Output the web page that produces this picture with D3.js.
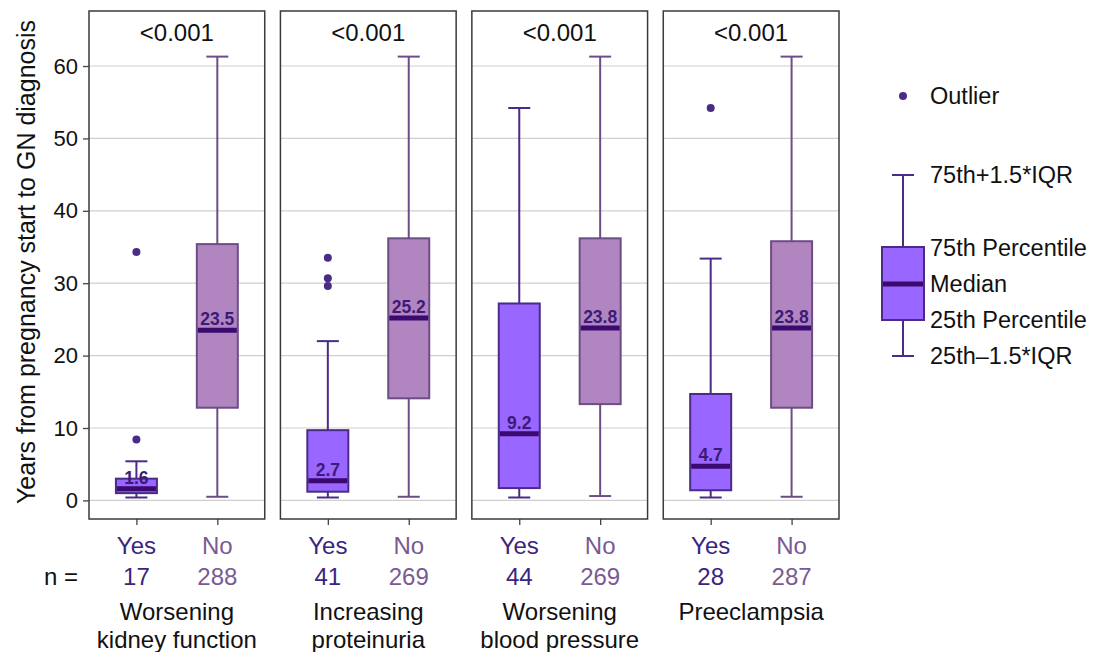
<!DOCTYPE html>
<html>
<head>
<meta charset="utf-8">
<script src="https://cdn.jsdelivr.net/npm/d3@7"></script>
<style>
  body { margin: 0; background: #fff; }
  text { font-family: "Liberation Sans", Arial, sans-serif; }
</style>
</head>
<body>
<div class="chart"></div>
<script>
var svgWidth = 1095;
var svgHeight = 652;

// data
var panels = ["Worsening kidney function", "Increasing proteinuria", "Worsening blood pressure", "Preeclampsia"];
var panelLines = [["Worsening", "kidney function"], ["Increasing", "proteinuria"], ["Worsening", "blood pressure"], ["Preeclampsia"]];
var pValues = ["<0.001", "<0.001", "<0.001", "<0.001"];
var groups = ["Yes", "No"];
var nYes = [17, 41, 44, 28];
var nNo = [288, 269, 269, 287];
// [low whisker, Q1, median, Q3, high whisker]
var statsYes = [
  [0.4, 1.0, 1.6, 3.0, 5.4],
  [0.4, 1.2, 2.7, 9.7, 22.0],
  [0.4, 1.7, 9.2, 27.2, 54.2],
  [0.4, 1.4, 4.7, 14.7, 33.4]
];
var statsNo = [
  [0.5, 12.8, 23.5, 35.4, 61.3],
  [0.5, 14.1, 25.2, 36.2, 61.3],
  [0.6, 13.3, 23.8, 36.2, 61.3],
  [0.5, 12.8, 23.8, 35.8, 61.3]
];
var outliersYes = [[8.4, 34.3], [29.6, 30.7, 33.5], [], [54.2]];
var outliersNo = [[], [], [], []];
var yTicks = [0, 10, 20, 30, 40, 50, 60];

var fillCol = { Yes: "#9966ff", No: "#b085c0" };
var strokeCol = { Yes: "#4a2c86", No: "#6d4d85" };
var textCol = { Yes: "#3a2580", No: "#7a5a94" };
var medianCol = "#3b0a70";

var svg = d3.select(".chart")
  .append("svg")
  .attr("width", svgWidth)
  .attr("height", svgHeight);

var plotTop = 11, plotBottom = 519;

var y = d3.scaleLinear()
  .domain([-2.57, 67.6])
  .range([plotBottom, plotTop]);

var xPanel = d3.scaleBand()
  .domain(panels)
  .range([89, 839])
  .paddingInner(0.082);

var xGroup = d3.scalePoint()
  .domain(groups)
  .range([0, xPanel.bandwidth()])
  .padding(0.586);

var boxW = 41;

panels.forEach(function(p, i) {
  var g = svg.append("g")
    .attr("transform", `translate(${xPanel(p)}, 0)`);
  var bw = xPanel.bandwidth();

  // grid
  g.selectAll(".grid")
    .data(yTicks)
    .enter()
    .append("line")
    .attr("x1", 0).attr("x2", bw)
    .attr("y1", d => y(d)).attr("y2", d => y(d))
    .attr("stroke", "#cfcfcf")
    .attr("stroke-width", 1.2);

  // bottom ticks
  var xAxis = d3.axisBottom(xGroup).tickSize(6).tickFormat("");
  var ax = g.append("g")
    .attr("transform", `translate(0, ${plotBottom})`)
    .call(xAxis);
  ax.select(".domain").remove();
  ax.selectAll("line").attr("stroke", "#444").attr("stroke-width", 1.3);

  var rows = [
    { grp: "Yes", s: statsYes[i], out: outliersYes[i] },
    { grp: "No", s: statsNo[i], out: outliersNo[i] }
  ];

  rows.forEach(function(r) {
    var cx = xGroup(r.grp);
    var sc = strokeCol[r.grp];
    // whiskers
    g.append("line")
      .attr("x1", cx).attr("x2", cx)
      .attr("y1", y(r.s[0])).attr("y2", y(r.s[4]))
      .attr("stroke", sc).attr("stroke-width", 2);
    [r.s[0], r.s[4]].forEach(function(v) {
      g.append("line")
        .attr("x1", cx - 11).attr("x2", cx + 11)
        .attr("y1", y(v)).attr("y2", y(v))
        .attr("stroke", sc).attr("stroke-width", 2);
    });
    // box
    g.append("rect")
      .attr("x", cx - boxW / 2)
      .attr("width", boxW)
      .attr("y", y(r.s[3]))
      .attr("height", y(r.s[1]) - y(r.s[3]))
      .attr("fill", fillCol[r.grp])
      .attr("stroke", sc)
      .attr("stroke-width", 2);
    // median
    g.append("line")
      .attr("x1", cx - boxW / 2 + 1).attr("x2", cx + boxW / 2 - 1)
      .attr("y1", y(r.s[2])).attr("y2", y(r.s[2]))
      .attr("stroke", medianCol).attr("stroke-width", 5);
    g.append("text")
      .attr("x", cx)
      .attr("y", y(r.s[2]) - 5)
      .attr("text-anchor", "middle")
      .attr("font-size", 17.5)
      .attr("font-weight", "bold")
      .attr("fill", "#3e1a78")
      .text(r.s[2].toFixed(1));
    // outliers
    g.selectAll(null)
      .data(r.out)
      .enter()
      .append("circle")
      .attr("cx", cx)
      .attr("cy", d => y(d))
      .attr("r", 4)
      .attr("fill", "#4a2c86");

    // group label and n
    g.append("text")
      .attr("x", cx).attr("y", 554)
      .attr("text-anchor", "middle")
      .attr("font-size", 24)
      .attr("fill", textCol[r.grp])
      .text(r.grp);
    g.append("text")
      .attr("x", cx).attr("y", 585)
      .attr("text-anchor", "middle")
      .attr("font-size", 24)
      .attr("fill", textCol[r.grp])
      .text(r.grp == "Yes" ? nYes[i] : nNo[i]);
  });

  // panel border
  g.append("rect")
    .attr("x", 0).attr("y", plotTop)
    .attr("width", bw).attr("height", plotBottom - plotTop)
    .attr("fill", "none")
    .attr("stroke", "#3a3a3a")
    .attr("stroke-width", 1.5);

  // p value
  g.append("text")
    .attr("x", bw / 2).attr("y", 41)
    .attr("text-anchor", "middle")
    .attr("font-size", 24)
    .attr("fill", "#111")
    .text(pValues[i]);

  // category label
  var t = g.append("text")
    .attr("x", bw / 2).attr("y", 620)
    .attr("text-anchor", "middle")
    .attr("font-size", 24)
    .attr("fill", "#111");
  panelLines[i].forEach(function(l, k) {
    t.append("tspan").attr("x", bw / 2).attr("dy", k == 0 ? 0 : 28).text(l);
  });
});

// y axis
var leftAxis = d3.axisLeft(y).tickValues(yTicks).tickSize(6).tickPadding(5);
var yAx = svg.append("g")
  .attr("transform", `translate(${xPanel(panels[0])}, 0)`)
  .call(leftAxis);
yAx.select(".domain").remove();
yAx.selectAll("line").attr("stroke", "#444").attr("stroke-width", 1.3);
yAx.selectAll("text")
  .attr("font-size", 22)
  .attr("fill", "#111")
  .style("font-family", "Liberation Sans, Arial, sans-serif");

svg.append("text")
  .attr("transform", "rotate(-90)")
  .attr("x", -262)
  .attr("y", 35)
  .attr("text-anchor", "middle")
  .attr("font-size", 25)
  .attr("fill", "#111")
  .text("Years from pregnancy start to GN diagnosis");

svg.append("text")
  .attr("x", 78).attr("y", 585)
  .attr("text-anchor", "end")
  .attr("font-size", 24)
  .attr("fill", "#111")
  .text("n =");

// legend
var legend = svg.append("g");
var lx = 903;
legend.append("circle")
  .attr("cx", lx).attr("cy", 96).attr("r", 4)
  .attr("fill", "#4a2c86");
legend.append("line")
  .attr("x1", lx).attr("x2", lx).attr("y1", 175).attr("y2", 356)
  .attr("stroke", "#4a2c86").attr("stroke-width", 2);
[175, 356].forEach(function(v) {
  legend.append("line")
    .attr("x1", lx - 11).attr("x2", lx + 11).attr("y1", v).attr("y2", v)
    .attr("stroke", "#4a2c86").attr("stroke-width", 2);
});
legend.append("rect")
  .attr("x", lx - 21).attr("y", 247).attr("width", 42).attr("height", 73)
  .attr("fill", "#9966ff").attr("stroke", "#4a2c86").attr("stroke-width", 2);
legend.append("line")
  .attr("x1", lx - 20).attr("x2", lx + 20).attr("y1", 284).attr("y2", 284)
  .attr("stroke", medianCol).attr("stroke-width", 5);

var legendLabels = ["Outlier", "75th+1.5*IQR", "75th Percentile", "Median", "25th Percentile", "25th\u20131.5*IQR"];
var legendY = [96, 175, 248, 284, 320, 356];
legend.selectAll(".ll")
  .data(legendLabels)
  .enter()
  .append("text")
  .attr("x", 930)
  .attr("y", (d, k) => legendY[k])
  .attr("dy", "0.35em")
  .attr("font-size", 23.5)
  .attr("fill", "#111")
  .text(d => d);
</script>
</body>
</html>
